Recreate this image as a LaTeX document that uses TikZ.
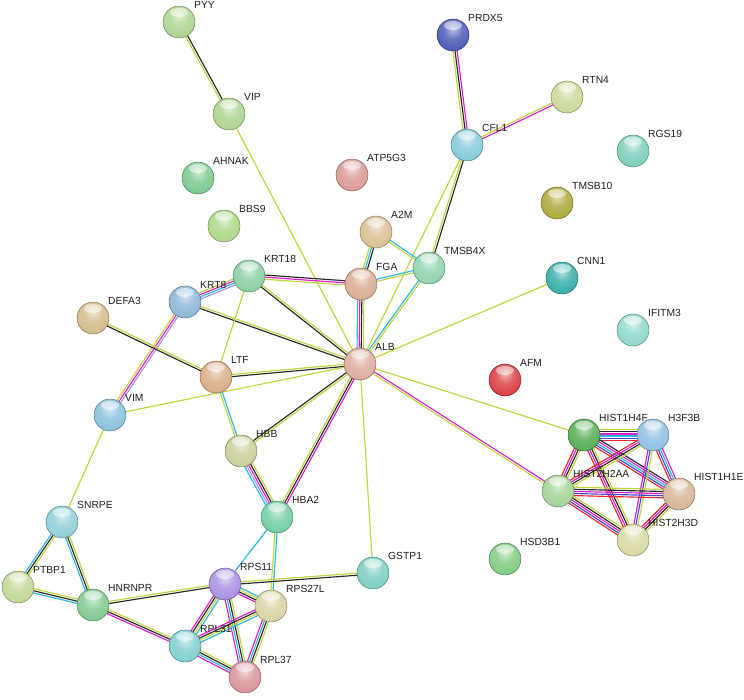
\documentclass[tikz,border=0pt]{standalone}
\usepackage{fontspec}
\setmainfont{Liberation Sans}
\usetikzlibrary{calc}
\pgfdeclarelayer{back}
\pgfdeclarelayer{edges}
\pgfsetlayers{back,edges,main}
% evidence colours
\definecolor{cY}{RGB}{192,212,60}
\definecolor{cK}{RGB}{40,40,40}
\definecolor{cM}{RGB}{225,30,205}
\definecolor{cC}{RGB}{40,185,225}
\definecolor{cR}{RGB}{235,40,45}
\definecolor{cB}{RGB}{70,70,215}
\definecolor{cP}{RGB}{160,150,235}
% node colours
\definecolor{nPYY}{RGB}{170,210,140}
\definecolor{nVIP}{RGB}{170,210,140}
\definecolor{nPRDX5}{RGB}{70,85,180}
\definecolor{nRTN4}{RGB}{200,215,150}
\definecolor{nCFL1}{RGB}{130,200,215}
\definecolor{nRGS19}{RGB}{120,205,185}
\definecolor{nAHNAK}{RGB}{120,200,140}
\definecolor{nATP5G3}{RGB}{215,150,145}
\definecolor{nTMSB10}{RGB}{170,165,55}
\definecolor{nBBS9}{RGB}{170,215,130}
\definecolor{nA2M}{RGB}{215,190,145}
\definecolor{nKRT18}{RGB}{135,205,160}
\definecolor{nFGA}{RGB}{215,170,145}
\definecolor{nTMSB4X}{RGB}{140,210,170}
\definecolor{nCNN1}{RGB}{50,170,165}
\definecolor{nKRT8}{RGB}{135,180,215}
\definecolor{nDEFA3}{RGB}{210,185,135}
\definecolor{nIFITM3}{RGB}{140,215,200}
\definecolor{nALB}{RGB}{220,170,155}
\definecolor{nLTF}{RGB}{215,170,130}
\definecolor{nAFM}{RGB}{215,55,60}
\definecolor{nVIM}{RGB}{135,190,220}
\definecolor{nHIST1H4F}{RGB}{80,170,80}
\definecolor{nH3F3B}{RGB}{140,190,225}
\definecolor{nHBB}{RGB}{200,205,150}
\definecolor{nHIST2H2AA}{RGB}{160,210,145}
\definecolor{nHIST1H1E}{RGB}{210,180,145}
\definecolor{nSNRPE}{RGB}{140,205,215}
\definecolor{nHBA2}{RGB}{110,205,160}
\definecolor{nHIST2H3D}{RGB}{215,215,160}
\definecolor{nHSD3B1}{RGB}{125,200,125}
\definecolor{nGSTP1}{RGB}{120,205,190}
\definecolor{nPTBP1}{RGB}{190,215,145}
\definecolor{nRPS11}{RGB}{165,140,225}
\definecolor{nHNRNPR}{RGB}{125,200,140}
\definecolor{nRPS27L}{RGB}{215,210,160}
\definecolor{nRPL31}{RGB}{125,205,205}
\definecolor{nRPL37}{RGB}{215,145,150}
\colorlet{ballc}{gray}
\pgfdeclareradialshading[ballc]{gloss}{\pgfpoint{0bp}{10bp}}{%
  color(0bp)=(ballc!35!white);
  color(14bp)=(ballc!80!white);
  color(34bp)=(ballc);
  color(52bp)=(ballc!88!black);
  color(60bp)=(ballc!65!black);
  color(80bp)=(ballc!50!black)}
\tikzset{
  setball/.code={\colorlet{ballc}{#1}},
  pball/.style={circle, minimum size=32pt, inner sep=0pt, setball=#1, shading=gloss,
    draw=#1!60!black, line width=0.45pt,
    path picture={\fill[white,opacity=0.5] ($(path picture bounding box.north)+(0,-6.5pt)$) ellipse (9pt and 4.5pt);}},
  lab/.style={anchor=west, font=\fontsize{10.3}{12}\selectfont, text=black!88, inner sep=0pt},
  eline/.style={line width=1.15pt}
}
\newcounter{ecnt}
\newcommand\lnk[3]{%
  \setcounter{ecnt}{0}%
  \foreach \cc in {#3}{\stepcounter{ecnt}}%
  \edef\nn{\arabic{ecnt}}%
  \begin{pgfonlayer}{edges}%
  \foreach \cc [count=\i] in {#3}{%
    \pgfmathsetmacro\off{(\i-(\nn+1)/2)*2.1}%
    \draw[eline,draw=\cc] ($(#1)!\off pt!90:(#2)$) -- ($(#2)!\off pt!-90:(#1)$);
  }%
  \end{pgfonlayer}%
}
\newcommand\prot[2]{%
  \node[pball=n#1] (#1) at (#2) {};
  \node[lab] (#1lab) at ($(#1)+(15,-17)$) {#1};
}
\begin{document}
\begin{tikzpicture}[x=1pt,y=-1pt]
\begin{pgfonlayer}{back}
\fill[white] (0,0) rectangle (744,700);
\end{pgfonlayer}
\useasboundingbox (0,0) rectangle (744,700);
\prot{PYY}{179,22}
\prot{VIP}{229,114}
\prot{PRDX5}{453,35}
\prot{RTN4}{567,97}
\prot{CFL1}{467,145}
\prot{RGS19}{633,151}
\prot{AHNAK}{198,178}
\prot{ATP5G3}{352,175}
\prot{TMSB10}{557,203}
\prot{BBS9}{224,226}
\prot{A2M}{376,232}
\prot{KRT18}{249,276}
\prot{FGA}{361,284}
\prot{TMSB4X}{429,268}
\prot{CNN1}{562,278}
\prot{KRT8}{185,302}
\prot{DEFA3}{93,318}
\prot{IFITM3}{633,330}
\prot{ALB}{360,364}
\prot{LTF}{216,377}
\prot{AFM}{505,380}
\prot{VIM}{110,415}
\prot{HIST1H4F}{584,435}
\prot{H3F3B}{653,435}
\prot{HBB}{241,451}
\prot{HIST2H2AA}{558,491}
\prot{HIST1H1E}{679,494}
\prot{SNRPE}{62,522}
\prot{HBA2}{277,517}
\prot{HIST2H3D}{633,540}
\prot{HSD3B1}{505,559}
\prot{GSTP1}{373,573}
\prot{PTBP1}{18,587}
\prot{RPS11}{225,584}
\prot{HNRNPR}{93,605}
\prot{RPS27L}{271,606}
\prot{RPL31}{185,646}
\prot{RPL37}{245,677}
% connectors
\lnk{PYY}{VIP}{cY,cK}
\lnk{VIP}{ALB}{cY}
\lnk{PRDX5}{CFL1}{cY,cK,cM}
\lnk{RTN4}{CFL1}{cY,cM}
\lnk{CFL1}{ALB}{cY}
\lnk{CFL1}{TMSB4X}{cY,cK}
\lnk{A2M}{FGA}{cY,cC,cK}
\lnk{A2M}{TMSB4X}{cY,cC}
\lnk{FGA}{TMSB4X}{cY,cC}
\lnk{FGA}{ALB}{cC,cM,cK,cY}
\lnk{TMSB4X}{ALB}{cC,cY}
\lnk{KRT18}{KRT8}{cY,cM,cC,cP}
\lnk{KRT18}{FGA}{cY,cM,cK}
\lnk{KRT18}{ALB}{cK,cY}
\lnk{KRT8}{ALB}{cK,cY}
\lnk{KRT8}{VIM}{cY,cM,cP}
\lnk{KRT18}{LTF}{cY}
\lnk{DEFA3}{LTF}{cK,cY}
\lnk{LTF}{ALB}{cK,cY}
\lnk{VIM}{ALB}{cY}
\lnk{VIM}{SNRPE}{cY}
\lnk{LTF}{HBB}{cY,cC}
\lnk{HBB}{ALB}{cY,cK}
\lnk{HBB}{HBA2}{cC,cP,cM,cK,cY}
\lnk{HBA2}{ALB}{cM,cK,cY}
\lnk{HBA2}{RPS11}{cC}
\lnk{HBA2}{RPS27L}{cY,cC}
\lnk{ALB}{GSTP1}{cY}
\lnk{RPS11}{GSTP1}{cK,cY}
\lnk{ALB}{HIST1H4F}{cY}
\lnk{ALB}{HIST2H2AA}{cY,cM}
\lnk{ALB}{CNN1}{cY}
\lnk{SNRPE}{PTBP1}{cC,cK,cY}
\lnk{SNRPE}{HNRNPR}{cC,cK,cY}
\lnk{PTBP1}{HNRNPR}{cC,cK,cY}
\lnk{HNRNPR}{RPS11}{cK,cY}
\lnk{HNRNPR}{RPL31}{cM,cK,cY}
\lnk{RPS11}{RPS27L}{cM,cK,cY,cC}
\lnk{RPS11}{RPL31}{cM,cK,cY,cC}
\lnk{RPS11}{RPL37}{cM,cC,cK,cY}
\lnk{RPS27L}{RPL31}{cM,cK,cY,cC}
\lnk{RPS27L}{RPL37}{cM,cC,cK,cY}
\lnk{RPL31}{RPL37}{cM,cC,cK,cY}
\lnk{HIST1H4F}{H3F3B}{cR,cB,cC,cM,cK,cY}
\lnk{HIST1H4F}{HIST2H2AA}{cR,cM,cK,cY}
\lnk{HIST1H4F}{HIST1H1E}{cR,cB,cC,cM,cK}
\lnk{HIST1H4F}{HIST2H3D}{cR,cM,cK,cY}
\lnk{H3F3B}{HIST2H2AA}{cR,cM,cK,cY}
\lnk{H3F3B}{HIST1H1E}{cR,cB,cC,cM}
\lnk{H3F3B}{HIST2H3D}{cM,cB,cY}
\lnk{HIST2H2AA}{HIST1H1E}{cR,cB,cM,cK,cY}
\lnk{HIST2H2AA}{HIST2H3D}{cR,cB,cM,cK,cY}
\lnk{HIST1H1E}{HIST2H3D}{cR,cM,cK,cY}
\end{tikzpicture}
\end{document}
